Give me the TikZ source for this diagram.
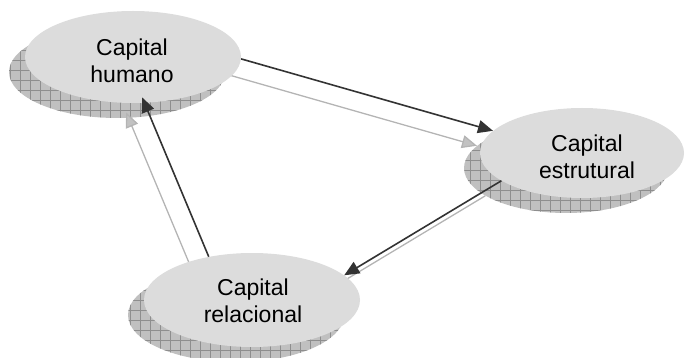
\documentclass[tikz,border=0pt]{standalone}
\usepackage{fontspec}
\setmainfont{Liberation Sans}
\usetikzlibrary{shapes.geometric,arrows.meta}
\definecolor{topfill}{HTML}{DCDCDC}
\definecolor{shadowfill}{HTML}{C0C0C0}
\definecolor{gridgray}{HTML}{8E8E8E}
\definecolor{linkdark}{HTML}{333333}
\definecolor{ghostline}{HTML}{B4B4B4}
\definecolor{ghosthead}{HTML}{C2C2C2}
\begin{document}
\begin{tikzpicture}[x=1pt,y=-1pt,
  blob/.style={ellipse, fill=topfill, draw=none, inner sep=0pt},
  shadowblob/.style={ellipse, fill=shadowfill, draw=none, inner sep=0pt},
  captxt/.style={align=center, inner sep=0pt, font=\fontsize{23}{27}\selectfont, text=black},
  link/.style={draw=linkdark, line width=1.6pt,
    -{Triangle[length=15pt,width=13pt,fill=linkdark]}},
  ghost/.style={draw=ghostline, line width=1.3pt,
    -{Triangle[length=15pt,width=13pt,fill=ghosthead]}},
  hatch/.style={draw=gridgray, line width=0.6pt}]
\useasboundingbox (0,0) rectangle (685,358);

% centres of the three ellipses
\coordinate (humC) at (133,57);
\coordinate (estC) at (582,153);
\coordinate (relC) at (252,300);

% cross-hatched drop shadows
\node[shadowblob, minimum width=216pt, minimum height=92pt] (humS) at ([shift={(-16,15)}]humC) {};
\node[shadowblob, minimum width=204pt, minimum height=90pt] (estS) at ([shift={(-16,15)}]estC) {};
\node[shadowblob, minimum width=216pt, minimum height=94pt] (relS) at ([shift={(-16,15)}]relC) {};
\begin{scope}
  \clip (humS.center) ellipse [x radius=108pt, y radius=46pt];
  \draw[hatch, step=10pt] (0,0) grid (260,140);
\end{scope}
\begin{scope}
  \clip (estS.center) ellipse [x radius=102pt, y radius=45pt];
  \draw[hatch, step=10pt] (440,100) grid (690,230);
\end{scope}
\begin{scope}
  \clip (relS.center) ellipse [x radius=108pt, y radius=47pt];
  \draw[hatch, step=10pt] (120,240) grid (370,370);
\end{scope}

% shadow copies of the connectors
\draw[ghost] (humS.-1.6) -- (estS.166.1);
\draw[ghost] (estS.199.9) -- (relS.15);
\draw[ghost, shorten >=-6pt] (relS.135.7) -- (humS.-76.2);

% raised ellipses
\node[blob, minimum width=216pt, minimum height=92pt] (hum) at (humC) {};
\node[blob, minimum width=204pt, minimum height=90pt] (est) at (estC) {};
\node[blob, minimum width=216pt, minimum height=94pt] (rel) at (relC) {};

% connectors
\draw[link] (hum.-1.6) -- (est.166.1);
\draw[link] (est.199.9) -- (rel.15);
\draw[link, shorten >=-6pt] (rel.135.7) -- (hum.-76.2);

% captions
\node[captxt] (humT) at (132,61) {Capital\\humano};
\node[captxt] (estT) at (587,157) {Capital\\estrutural};
\node[captxt] (relT) at (253,301) {Capital\\relacional};
\end{tikzpicture}
\end{document}
